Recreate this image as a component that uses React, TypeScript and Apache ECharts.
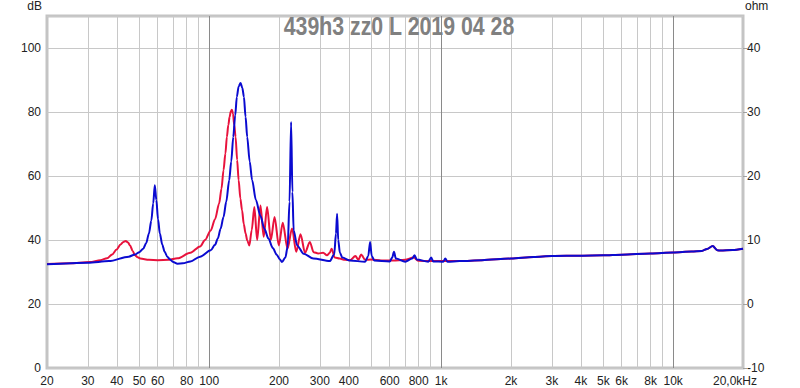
import React, { useEffect, useRef } from "react";
import * as echarts from "echarts";

// ---- Data (frequency in Hz, level in dB on the left scale) ----
const redFreq = [
  20, 25, 30.6, 34, 36.3, 38.2, 39.9, 41.5, 42.7, 43.7, 44.7, 45.6, 46.8, 47.9, 49.2, 50.5, 55,
  60, 67, 73, 83, 91.4, 96, 101.6, 106, 110.4, 113, 115.3, 117.5, 119.2, 121, 122.5, 124, 125.4,
  126.7, 128.2, 130, 132, 134, 136.3, 138.6, 141, 143.6, 146, 149, 152.5, 156.6, 161, 166.4,
  171.8, 177.7, 184.5, 191.4, 199.6, 207.6, 217.6, 227.6, 237.3, 247.6, 259, 271.5, 282, 295,
  310, 322, 331, 337, 348, 365, 385, 405, 427, 440, 452, 470, 500, 550, 620, 700, 760, 800,
  900, 1000, 1200, 1500, 2000, 2500, 3000, 4000, 5000, 6000, 8000, 10000, 12000, 13300, 14000,
  14800, 15500, 16000, 18000, 20000,
];
const redDb = [
  32.5, 32.7, 33.1, 33.7, 34.3, 35.5, 37.0, 38.6, 39.4, 39.7, 39.2, 38.3, 36.6, 35.2, 34.6, 34.2,
  33.8, 33.7, 33.8, 34.3, 36.0, 38.0, 40.0, 43.0, 46.5, 51.4, 56.0, 61.8, 67.0, 72.2, 76.0, 78.5,
  80.2, 80.7, 79.5, 76.0, 72.2, 65.0, 58.7, 53.0, 49.3, 45.0, 42.0, 39.8, 38.3, 43.0, 50.3, 40.0,
  50.8, 41.0, 50.3, 40.0, 47.2, 38.3, 45.4, 37.3, 43.6, 36.3, 41.8, 36.0, 39.4, 36.2, 35.8, 36.0,
  35.2, 36.0, 37.3, 34.5, 34.2, 33.8, 33.7, 35.0, 33.8, 35.5, 33.8, 33.9, 33.6, 33.6, 33.8, 34.5,
  33.5, 33.4, 33.4, 33.4, 33.7, 34.2, 34.7, 35.0, 35.1, 35.2, 35.4, 35.8, 36.1, 36.4, 36.6, 37.2,
  38.1, 36.8, 36.7, 36.9, 37.3,
];

const blueFreq = [
  20, 30, 37, 45, 48, 50, 52, 53.5, 55, 56.3, 57.4, 58.3, 59.2, 60.2, 61.3, 62.8, 64.3, 66, 67.6,
  70, 73, 77, 83, 91.4, 101.6, 106, 109, 112, 115.3, 118.5, 122, 124.5, 127, 129.5, 131.6, 134,
  136.6, 139, 141.2, 143.5, 145.9, 149.5, 153.2, 159, 166.4, 173, 180, 188, 196, 201.5, 206, 213,
  218, 222, 225.5, 228.5, 231.3, 239.4, 255.3, 281.5, 331, 346, 352, 356, 360, 366, 375, 405,
  470, 485, 494, 502, 515, 600, 615, 626, 638, 700, 750, 768, 785, 880, 906, 925, 1020, 1042,
  1065, 1200, 1500, 2000, 2500, 3000, 4000, 5000, 6000, 8000, 10000, 12000, 13300, 14000, 14800,
  15500, 16000, 18000, 20000,
];
const blueDb = [
  32.4, 32.9, 33.4, 34.8, 35.5, 36.2, 37.3, 39.0, 42.0, 46.0, 51.5, 57.1, 52.5, 46.5, 42.0, 38.5,
  36.3, 34.8, 34.0, 33.1, 32.6, 32.7, 33.3, 34.8, 36.8, 38.5, 40.5, 43.5, 47.2, 52.0, 58.7, 64.5,
  72.2, 79.0, 84.7, 88.0, 89.1, 87.5, 84.7, 78.5, 72.2, 64.5, 58.7, 52.5, 47.5, 43.5, 40.5, 37.5,
  35.3, 34.0, 33.1, 34.5, 38.0, 52.0, 76.9, 55.0, 43.0, 38.3, 35.7, 34.2, 33.4, 35.5, 42.0, 48.2,
  40.0, 36.0, 34.5, 33.6, 33.2, 35.0, 39.4, 35.0, 33.6, 33.3, 34.5, 36.3, 34.2, 33.2, 34.2, 35.2,
  33.9, 33.2, 34.5, 33.3, 33.2, 34.2, 33.2, 33.4, 33.7, 34.2, 34.7, 35.0, 35.1, 35.2, 35.4, 35.8,
  36.1, 36.4, 36.6, 37.2, 38.1, 36.8, 36.7, 36.9, 37.3,
];

// ---- Axes ----
const minorGridFreqs = [
  30, 40, 50, 60, 70, 80, 90, 200, 300, 400, 500, 600, 700, 800, 900,
  2000, 3000, 4000, 5000, 6000, 7000, 8000, 9000,
];
const decadeFreqs = [100, 1000, 10000];
const labelFreqs = [
  20, 30, 40, 50, 60, 80, 100, 200, 300, 400, 600, 800, 1000, 2000, 3000, 4000, 5000, 6000, 8000,
  10000, 20000,
];
const labelTexts = [
  "20", "30", "40", "50", "60", "80", "100", "200", "300", "400", "600", "800", "1k", "2k", "3k",
  "4k", "5k", "6k", "8k", "10k", "20,0kHz",
];
const freqMin = 20;
const freqMax = 20000;
const dbTicks = { min: 0, max: 110, interval: 20 };
const ohmTicks = { min: -10, max: 45, interval: 10 };

const titleText = "439h3 zz0 L 2019 04 28";

const lg = (f: number) => Math.log10(f);

export default function App() {
  const ref = useRef<HTMLDivElement>(null);

  useEffect(() => {
    if (!ref.current) return;
    const chart = echarts.init(ref.current, undefined, { renderer: "svg" });
    const labelFont = "'Liberation Sans', Arial, sans-serif";
    const option: any = {
      animation: false,
      backgroundColor: "#ffffff",
      graphic: [
        {
          type: "text",
          x: 399,
          y: 26,
          scaleX: 0.82,
          z: 10,
          style: {
            text: titleText,
            fontSize: 26,
            fontWeight: "bold",
            fill: "#808080",
            fontFamily: "'Liberation Sans', Arial, sans-serif",
            textAlign: "center",
            textVerticalAlign: "middle",
          },
        },
        {
          type: "text",
          x: 42,
          y: 6,
          style: {
            text: "dB",
            fontSize: 12,
            fill: "#222",
            fontFamily: labelFont,
            textAlign: "right",
            textVerticalAlign: "middle",
          },
        },
        {
          type: "text",
          x: 745,
          y: 6,
          style: {
            text: "ohm",
            fontSize: 12,
            fill: "#222",
            fontFamily: labelFont,
            textAlign: "left",
            textVerticalAlign: "middle",
          },
        },
      ],
      grid: {
        left: 47,
        right: 57,
        top: 16,
        bottom: 20,
        show: true,
        borderColor: "#c4c4c4",
        borderWidth: 3,
        backgroundColor: "#ffffff",
        z: 0,
      },
      xAxis: [
        {
          type: "value",
          min: lg(freqMin),
          max: lg(freqMax),
          position: "bottom",
          axisLine: { show: false },
          axisTick: { show: false, customValues: minorGridFreqs.map(lg) },
          splitLine: { show: true, lineStyle: { color: "#c8c8c8", width: 1 } },
          axisLabel: {
            customValues: labelFreqs.map(lg),
            margin: 7,
            fontSize: 12,
            color: "#222",
            fontFamily: labelFont,
            formatter: (v: number) => {
              const f = Math.round(Math.pow(10, v));
              const i = labelFreqs.indexOf(f);
              if (i < 0) return "";
              return f === freqMax ? "{end|" + labelTexts[i] + "}" : labelTexts[i];
            },
            rich: {
              end: {
                fontSize: 12,
                color: "#222",
                fontFamily: labelFont,
                padding: [0, 16, 0, 0],
              },
            },
          },
        },
        {
          type: "value",
          min: lg(freqMin),
          max: lg(freqMax),
          position: "bottom",
          axisLine: { show: false },
          axisTick: { show: false, customValues: decadeFreqs.map(lg) },
          splitLine: { show: true, lineStyle: { color: "#8a8a8a", width: 1 } },
          axisLabel: { show: false },
        },
      ],
      yAxis: [
        {
          type: "value",
          position: "left",
          min: dbTicks.min,
          max: dbTicks.max,
          interval: dbTicks.interval,
          axisLine: { show: false },
          axisTick: { show: false },
          splitLine: { show: true, lineStyle: { color: "#c8c8c8", width: 1 } },
          axisLabel: {
            showMaxLabel: false,
            margin: 6,
            fontSize: 12,
            color: "#222",
            fontFamily: labelFont,
          },
        },
        {
          type: "value",
          position: "right",
          min: ohmTicks.min,
          max: ohmTicks.max,
          interval: ohmTicks.interval,
          axisLine: { show: false },
          axisTick: { show: true, length: 4, lineStyle: { color: "#a0a0a0" } },
          splitLine: { show: false },
          axisLabel: {
            showMaxLabel: false,
            margin: 4,
            fontSize: 12,
            color: "#222",
            fontFamily: labelFont,
          },
        },
      ],
      series: [
        {
          type: "line",
          xAxisIndex: 0,
          yAxisIndex: 0,
          data: redFreq.map((f, i) => [lg(f), redDb[i]]),
          showSymbol: false,
          smooth: 0.3,
          smoothMonotone: "x",
          lineStyle: { color: "#e8123c", width: 2 },
          z: 3,
        },
        {
          type: "line",
          xAxisIndex: 0,
          yAxisIndex: 0,
          data: blueFreq.map((f, i) => [lg(f), blueDb[i]]),
          showSymbol: false,
          smooth: 0.3,
          smoothMonotone: "x",
          lineStyle: { color: "#0a0ad0", width: 2 },
          z: 4,
        },
      ],
    };
    chart.setOption(option);
    return () => chart.dispose();
  }, []);

  return (
    <div
      ref={ref}
      style={{ position: "absolute", left: 0, top: 0, width: 800, height: 388 }}
    />
  );
}
